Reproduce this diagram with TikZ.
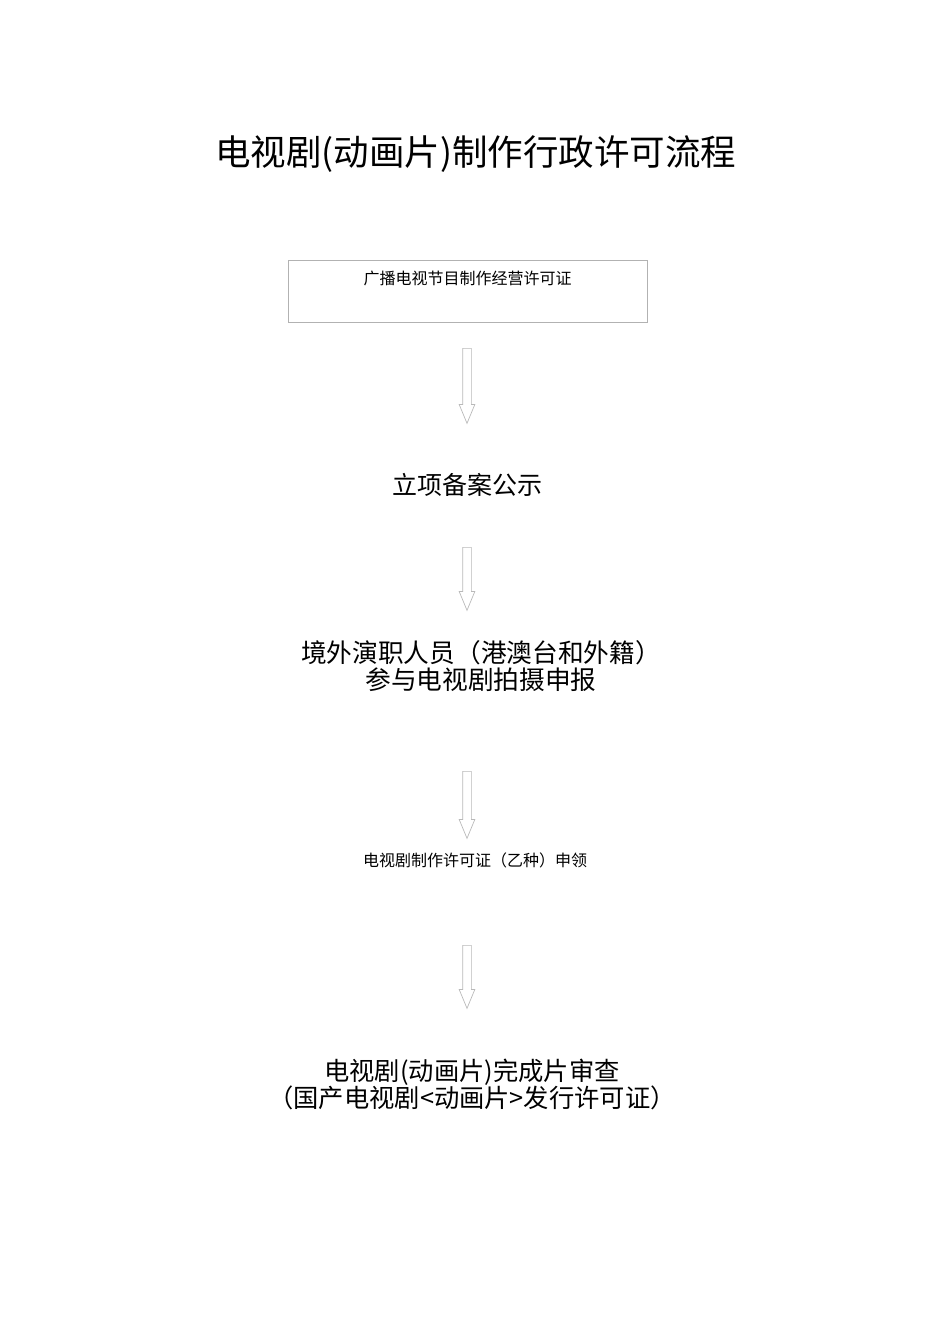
\documentclass[tikz,border=0pt]{standalone}
\usepackage{fontspec}
\newfontfamily\cjk{Noto Sans CJK SC}
\usetikzlibrary{shapes.arrows}

\begin{document}
\begin{tikzpicture}[x=1pt,y=-1pt,
    flowarrow/.style={single arrow,draw=gray!55,line width=0.7pt,rotate=-90,anchor=tail,
      inner sep=4pt,single arrow head extend=3.5pt,single arrow tip angle=45,
      single arrow head indent=0pt},
    bigtext/.style={font=\cjk\fontsize{25}{27}\selectfont,align=center,inner sep=0pt},
    smalltext/.style={font=\cjk\fontsize{16}{19}\selectfont,inner sep=0pt}]
    \useasboundingbox (0,0) rectangle (950,1344);
    % title
    \node[font=\cjk\fontsize{35.5}{40}\selectfont,inner sep=0pt] (title) at (475.5,154) {电视剧(动画片)制作行政许可流程};
    % boxed licence
    \node[smalltext,draw=gray!60,line width=0.7pt,anchor=north,minimum width=359pt,
      text height=24pt,text depth=38pt] (permit) at (467.5,260) {广播电视节目制作经营许可证};
    \node[flowarrow,minimum height=75pt] (a1) at (467,348) {};
    \node[bigtext] (filing) at (467,485) {立项备案公示};
    \node[flowarrow,minimum height=63pt] (a2) at (467,547) {};
    \node[bigtext,font=\cjk\fontsize{25.7}{27.5}\selectfont] (actors) at (481,666) {境外演职人员（港澳台和外籍）\\参与电视剧拍摄申报};
    \node[flowarrow,minimum height=67pt] (a3) at (467,771) {};
    \node[smalltext] (licence) at (475,860) {电视剧制作许可证（乙种）申领};
    \node[flowarrow,minimum height=63pt] (a4) at (467,945) {};
    \node[bigtext,font=\cjk\fontsize{25.3}{25}\selectfont] (review) at (472,1084.5) {电视剧(动画片)完成片审查\\（国产电视剧<动画片>发行许可证）};
\end{tikzpicture}
\end{document}
